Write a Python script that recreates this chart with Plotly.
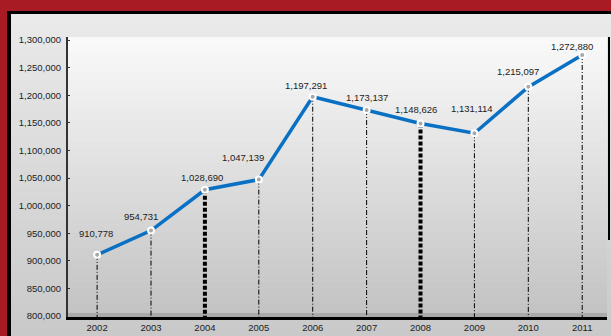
import plotly.graph_objects as go

# ---- data ----
years = ["2002", "2003", "2004", "2005", "2006", "2007", "2008", "2009", "2010", "2011"]
values = [910778, 954731, 1028690, 1047139, 1197291, 1173137, 1148626, 1131114, 1215097, 1272880]
highlight_years = ["2004", "2008"]
ytick_vals = [800000, 850000, 900000, 950000, 1000000, 1050000, 1100000, 1150000,
              1200000, 1250000, 1300000]

# label offsets in pixels (style)
label_dx = [-1, -10, -3, -16, -7, 0, -5, -2, -10, -10]
label_dy = [21, 14, 12, 22, 11, 13, 14, 25, 15, 8]

W, H = 611, 336
ML, MR, MT, MB = 68, 4, 37, 19
PW, PH = W - ML - MR, H - MT - MB
YR = [798188, 1305435]
XR = [-0.54, 9.46]


def px(x):
    return (x - ML) / PW


def py(y):
    return (H - MB - y) / PH


def gray(v):
    v = int(round(v))
    return f"rgb({v},{v},{v})"


shapes = []
# outer black frame and gray panel
shapes.append(dict(type="rect", xref="paper", yref="paper", x0=px(7), x1=px(640), y0=py(11), y1=py(360),
                   fillcolor="black", line=dict(width=0), layer="below"))
N = 40
top_p, bot_p = 14, 345
for i in range(N):
    y0 = top_p + (bot_p - top_p) * i / N
    c = 234 - (234 - 200) * (i + 0.5) / N
    shapes.append(dict(type="rect", xref="paper", yref="paper", x0=px(11), x1=px(640),
                       y0=py(bot_p), y1=py(y0), fillcolor=gray(c), line=dict(width=0), layer="below"))
# plot-area gradient (nested bands, no seams)
for i in range(N):
    a = i / N
    c = 250 - (250 - 194) * (i + 0.5) / N
    shapes.append(dict(type="rect", xref="x domain", yref="y domain", x0=0, x1=1,
                       y0=0, y1=1 - a, fillcolor=gray(c), line=dict(width=0), layer="below"))
# bottom band above the axis
shapes.append(dict(type="rect", xref="x domain", yref="y domain", x0=0, x1=1, y0=0, y1=4 / PH,
                   fillcolor=gray(170), line=dict(width=0), layer="below"))
# dark right edge
shapes.append(dict(type="line", xref="paper", yref="paper", x0=px(609), x1=px(609), y0=1, y1=py(240),
                   line=dict(color="black", width=2), layer="above"))

fig = go.Figure()

# drop lines
thin_x, thin_y, thick_x, thick_y = [], [], [], []
for yr, v in zip(years, values):
    if yr in highlight_years:
        thick_x += [yr, yr, None]
        thick_y += [v, YR[0], None]
    else:
        thin_x += [yr, yr, None]
        thin_y += [v, YR[0], None]
fig.add_trace(go.Scatter(x=thin_x, y=thin_y, mode="lines", hoverinfo="skip",
                         line=dict(color="black", width=1, dash="5px,2px,1px,2px")))
fig.add_trace(go.Scatter(x=thick_x, y=thick_y, mode="lines", hoverinfo="skip",
                         line=dict(color="black", width=4, dash="4px,2px")))

fig.add_trace(go.Scatter(x=years, y=values, mode="lines+markers",
                         line=dict(color="#0a70c4", width=3.5),
                         marker=dict(symbol="circle", size=6, color="#a8a8a8",
                                     line=dict(color="white", width=2))))

annotations = []
for i, (v, dx, dy) in enumerate(zip(values, label_dx, label_dy)):
    annotations.append(dict(x=i, y=v, xref="x", yref="y", text=f"{v:,}", showarrow=False,
                            xanchor="center", yanchor="middle", xshift=dx, yshift=dy,
                            font=dict(family="Liberation Sans, Arial", size=9.5, color="#222")))

fig.update_layout(
    width=W, height=H,
    margin=dict(l=ML, r=MR, t=MT, b=MB, pad=0),
    paper_bgcolor="#a81b24",
    plot_bgcolor="rgba(0,0,0,0)",
    showlegend=False,
    shapes=shapes,
    annotations=annotations,
    font=dict(family="Liberation Sans, Arial", size=9, color="#222"),
    xaxis=dict(type="category", categoryorder="array", categoryarray=years, range=XR,
               showgrid=False, zeroline=False,
               showline=True, linecolor="black", linewidth=3, ticks="",
               tickfont=dict(size=9.5, color="#222")),
    yaxis=dict(range=YR, tickvals=ytick_vals, tickformat=",d", showgrid=False, zeroline=False,
               showline=True, linecolor="#333", linewidth=2, ticks="inside", ticklen=2,
               tickcolor="#333", ticklabelstandoff=3, tickfont=dict(size=9.5, color="#222")),
)

fig.write_html("out.html")
